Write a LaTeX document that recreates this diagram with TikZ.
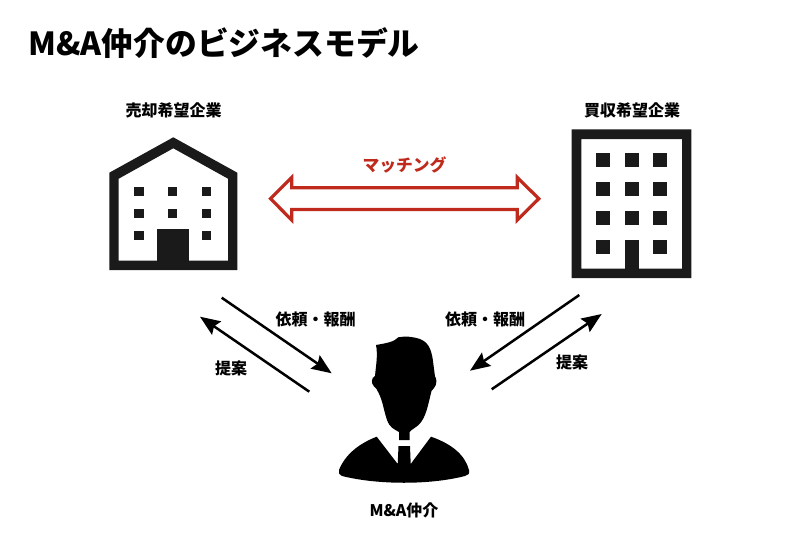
\documentclass[tikz,border=0pt]{standalone}
\usepackage{fontspec}
\setmainfont{Noto Sans CJK JP}
\usepackage{tikz}
\usetikzlibrary{arrows.meta}
\definecolor{iconblack}{HTML}{1A1A1A}
\definecolor{matchred}{HTML}{BF2A1C}
\tikzset{
	lbl/.style={font=\fontsize{16}{16}\selectfont\bfseries, text=black, inner sep=0pt},
	flow/.style={line width=2.5pt, -{Stealth[length=20pt,width=16pt,inset=3pt]}},
	win/.style={fill=iconblack, draw=none},
}
\begin{document}
\begin{tikzpicture}[x=1pt,y=-1pt]
\useasboundingbox (0,0) rectangle (800,535);

\node[anchor=west, inner sep=0pt, font=\fontsize{31.8}{32}\selectfont\bfseries] (title) at (28,43) {M\&A仲介のビジネスモデル};

% seller
\node[lbl] (seller) at (173.7,110) {売却希望企業};
\fill[iconblack, even odd rule]
	(109.3,172.7) -- (173.3,137.3) -- (237.3,172.7) -- (237.3,270) -- (109.3,270) -- cycle
	(118.7,178.7) -- (173.3,148.3) -- (228,178.7) -- (228,260.7) -- (118.7,260.7) -- cycle;
\fill[iconblack] (157.3,229.3) rectangle (189.3,262);
\foreach \x in {134,167.7,201.7}
	\foreach \y in {186.7,208.5}
		\path[win] (\x,\y) rectangle +(9.5,9.5);
\foreach \x in {134,201.7}
	\path[win] (\x,230.5) rectangle +(9.5,9.5);

% buyer
\node[lbl] (buyer) at (632.2,110) {買収希望企業};
\fill[iconblack, even odd rule]
	(571.7,129.3) rectangle (691.3,278)
	(581.3,139) rectangle (682,268.7);
\foreach \x in {595.7,624.7,653.3}
	\foreach \y in {153.3,182.3,211}
		\path[win] (\x,\y) rectangle +(14,14);
\foreach \x in {595.7,653.3}
	\path[win] (\x,240) rectangle +(14,14);
\fill[iconblack] (624.7,240) rectangle (638.7,270);

% matching
\node[lbl, text=matchred, font=\fontsize{16.8}{17}\selectfont\bfseries] (match) at (404.5,165) {マッチング};
\draw[matchred, line width=3.2pt, miter limit=4]
	(270.5,198.7) -- (291.7,177.5) -- (291.7,187.8) -- (517.3,187.8) -- (517.3,177.5) -- (538.8,198.7)
	-- (517.3,220) -- (517.3,209.5) -- (291.7,209.5) -- (291.7,220) -- cycle;

% broker
\fill[black]
	(376,345) .. controls (387,343) and (394,342) .. (398.3,337.3)
	.. controls (405,336) and (412,336.5) .. (420,339)
	.. controls (430,343) and (432,352) .. (433.5,365)
	-- (435,376.5) .. controls (437,378) and (437,385) .. (434,388)
	-- (431.5,391) .. controls (428,405) and (426,418) .. (418.5,425)
	.. controls (415,428) and (411,430) .. (409.5,432) -- (409.5,440) -- (399,440) -- (399,432)
	.. controls (394,429) and (390,428) .. (387,420)
	.. controls (383,408) and (383,400) .. (376.5,389)
	.. controls (372,385) and (371,382) .. (372.7,378)
	-- (375,376) .. controls (376,365) and (378,355) .. (376,345) -- cycle;
\fill[black]
	(376.7,436.7) -- (397.7,464) -- (398.5,446) -- (410,446) -- (410.7,464) -- (431,436.7)
	.. controls (452,444) and (465,455) .. (469,470)
	.. controls (470,475) and (468,474) .. (465,476)
	.. controls (430,485) and (378,485) .. (342,476)
	.. controls (339,474) and (338,473) .. (339,470)
	.. controls (345,455) and (358,444) .. (376.7,436.7) -- cycle;
\node[lbl] (broker) at (404,510.5) {M\&A仲介};

% flows
\coordinate (a1) at (221.7,297.7);
\coordinate (a2) at (331.7,373.3);
\coordinate (b1) at (309.3,391.7);
\coordinate (b2) at (200,316.7);
\coordinate (c1) at (579.3,295);
\coordinate (c2) at (470,370.7);
\coordinate (d1) at (491.7,389.3);
\coordinate (d2) at (601.7,314);
\path[flow]
(a1) edge (a2)
(b1) edge (b2)
(c1) edge (c2)
(d1) edge (d2)
;
\node[lbl] (reqleft) at (315.5,319) {依頼・報酬};
\node[lbl] (reqright) at (485,319) {依頼・報酬};
\node[lbl] (propleft) at (231,368) {提案};
\node[lbl] (propright) at (572,362) {提案};
\end{tikzpicture}
\end{document}
